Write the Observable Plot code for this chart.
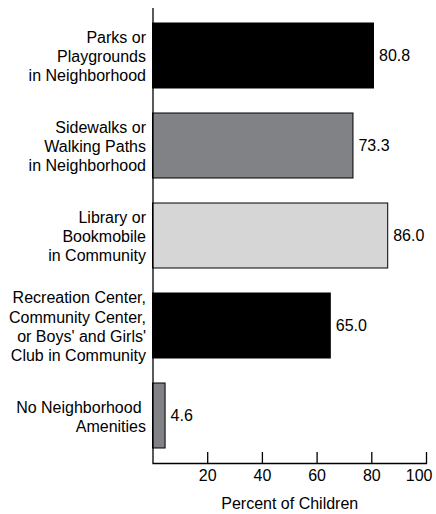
<!DOCTYPE html>
<html>
<head>
<meta charset="utf-8">
<script src="https://cdn.jsdelivr.net/npm/d3@7"></script>
<script src="https://cdn.jsdelivr.net/npm/@observablehq/plot@0.6"></script>
<style>
  html, body { margin: 0; padding: 0; background: #fff; }
  #chart svg { display: block; }
</style>
</head>
<body>
<div id="chart"></div>
<script>
// Data
const categories = [
  "Parks or\nPlaygrounds\nin Neighborhood",
  "Sidewalks or\nWalking Paths\nin Neighborhood",
  "Library or\nBookmobile\nin Community",
  "Recreation Center,\nCommunity Center,\nor Boys' and Girls'\nClub in Community",
  "No Neighborhood\u00a0\nAmenities"
];
const values = [80.8, 73.3, 86.0, 65.0, 4.6];
const xTicks = [20, 40, 60, 80, 100];
const xLabel = "Percent of Children";

// Styles
const barColors = ["#000000", "#818285", "#d6d6d6", "#000000", "#818285"];
const font = "'Liberation Sans', Arial, Helvetica, sans-serif";
const fs = 16;

const rows = categories.map((c, i) => ({cat: c, value: values[i], color: barColors[i]}));
const innerTicks = xTicks.slice(0, -1);
const lastTick = xTicks.slice(-1);

const chart = Plot.plot({
  width: 436,
  height: 514,
  marginTop: 8,
  marginBottom: 51,
  marginLeft: 152.5,
  marginRight: 10,
  style: {fontFamily: font, fontSize: fs + "px", color: "#000", background: "#fff"},
  x: {domain: [0, 100]},
  y: {domain: categories, paddingInner: 0.275, paddingOuter: 0.14, axis: null},
  color: {type: "identity"},
  marks: [
    Plot.barX(rows, {x: "value", y: "cat", fill: "color", stroke: "#000", strokeWidth: 1}),
    Plot.text(rows, {x: "value", y: "cat", text: d => d.value.toFixed(1), textAnchor: "start", dx: 5, fontSize: fs, fill: "#000"}),
    Plot.text(rows, {y: "cat", text: "cat", frameAnchor: "left", textAnchor: "end", dx: -7, lineHeight: 1.2, fontSize: fs, fill: "#000"}),
    Plot.ruleX([0], {stroke: "#000", strokeWidth: 1.3}),
    Plot.frame({anchor: "bottom", stroke: "#000", strokeWidth: 1.3}),
    Plot.axisX({ticks: xTicks, tickSize: -11, tickFormat: () => "", label: null, stroke: "#000", strokeWidth: 1.3}),
    Plot.text(innerTicks, {x: d => d, text: d => String(d), frameAnchor: "bottom", dy: 17, fontSize: fs, fill: "#000"}),
    Plot.text(lastTick, {x: d => d, text: d => String(d), frameAnchor: "bottom", dy: 17, dx: 6, textAnchor: "end", fontSize: fs, fill: "#000"}),
    Plot.text([xLabel], {frameAnchor: "bottom", dy: 45, text: d => d, fontSize: fs, fill: "#000"})
  ]
});
document.getElementById("chart").appendChild(chart);
</script>
</body>
</html>
